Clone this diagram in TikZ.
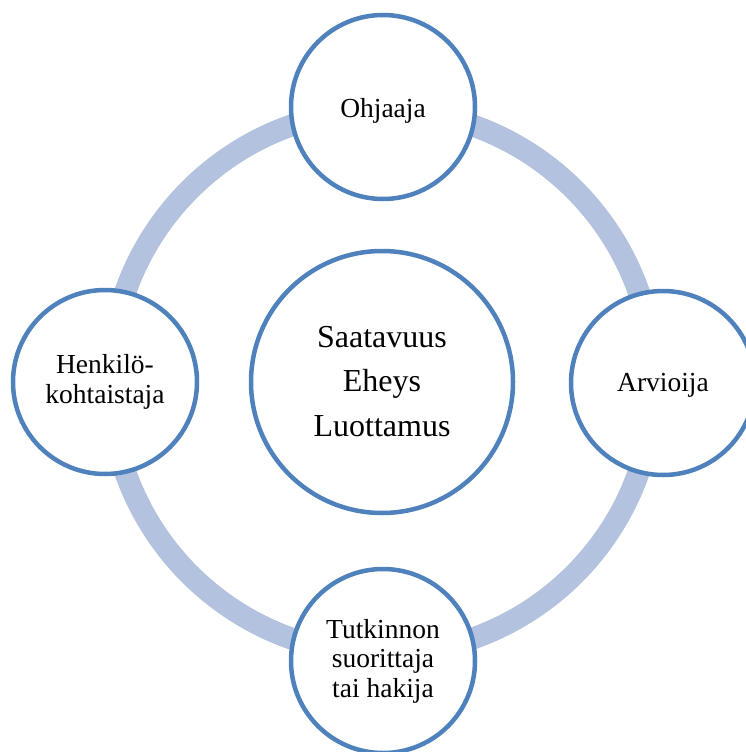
\documentclass[tikz,border=0pt]{standalone}
\usepackage{fontspec}
\setmainfont{Liberation Serif}
\usetikzlibrary{calc}
\definecolor{ringblue}{RGB}{179,194,222}
\definecolor{edgeblue}{RGB}{79,129,189}
\begin{document}
\begin{tikzpicture}[x=1pt,y=-1pt,
  role/.style={circle,draw=edgeblue,line width=4.5pt,fill=white,minimum size=184pt,inner sep=0pt},
  core/.style={circle,draw=edgeblue,line width=4.5pt,fill=white,minimum size=262pt,inner sep=0pt},
  lbl/.style={inner sep=0pt,align=center,font=\fontsize{27.5}{29.5}\selectfont},
  corelbl/.style={inner sep=0pt,align=center,font=\fontsize{32}{44.5}\selectfont}]
\useasboundingbox (0,0) rectangle (746,752);
% the cycle ring behind the circles
\coordinate (mid) at (382,382);
\draw[ringblue,line width=22pt] (mid) circle[radius=272];
% circles
\node[core] (core) at (mid) {};
\node[role] (ohj) at (383,107) {};
\node[role] (arv) at (663,383) {};
\node[role] (hen) at (105,382) {};
\node[role] (tut) at (383,661) {};
% labels (base anchor sits on the last line)
\node[corelbl,anchor=base] (coret) at ($(core)+(0,54)$) {Saatavuus\\Eheys\\Luottamus};
\node[lbl,anchor=base] (ohjt) at ($(ohj)+(0,10)$) {Ohjaaja};
\node[lbl,anchor=base] (arvt) at ($(arv)+(0,8)$) {Arvioija};
\node[lbl,anchor=base] (hent) at ($(hen)+(0,21)$) {Henkilö-\\kohtaistaja};
\node[lbl,anchor=base] (tutt) at ($(tut)+(0,36)$) {Tutkinnon\\suorittaja\\tai hakija};
\end{tikzpicture}
\end{document}
